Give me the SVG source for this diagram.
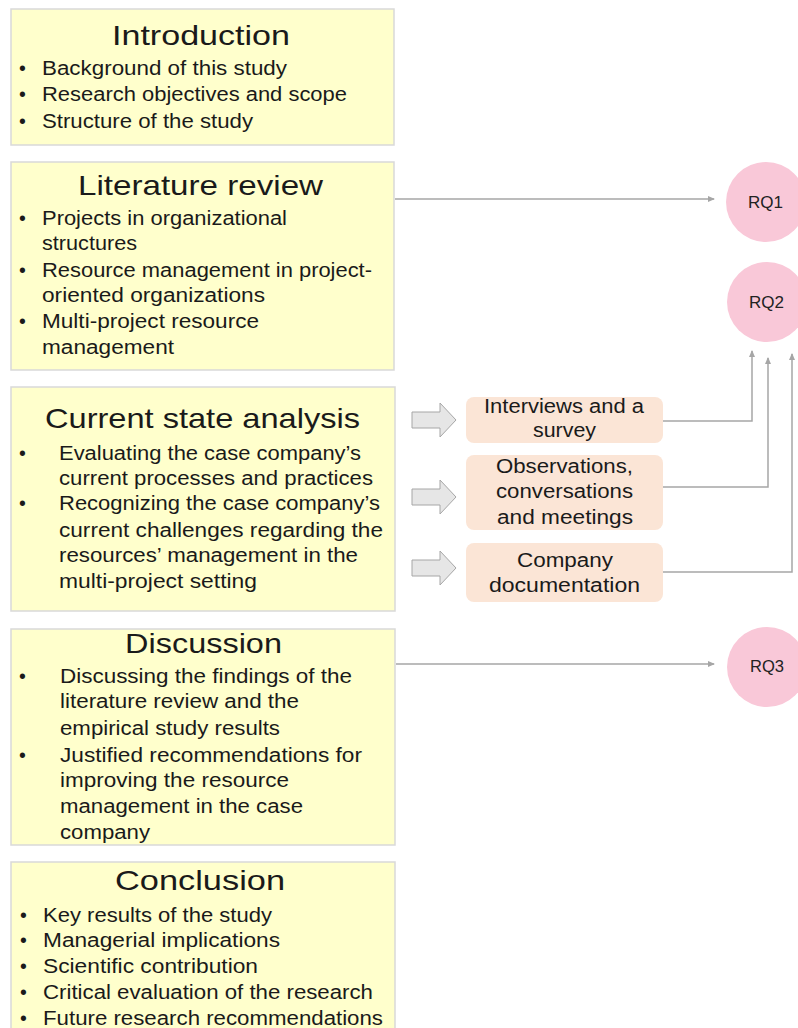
<svg xmlns="http://www.w3.org/2000/svg" width="798" height="1028" viewBox="0 0 798 1028">
<style>
.box{fill:#FFFFCC;stroke:#D9D9D9;stroke-width:1.5}
.src{fill:#FBE5D6;stroke:none}
.rq{fill:#F9C8D8;stroke:none}
.t{font-family:"Liberation Sans",Arial,sans-serif;fill:#1a1a1a}
.title{font-size:28px}
.body{font-size:19.5px}
.lab{font-size:16px;fill:#222}
.conn{fill:none;stroke:#A6A6A6;stroke-width:1.5}
.blk{fill:#E6E6E6;stroke:#A6A6A6;stroke-width:1}
</style>
<defs>
<marker id="ah" markerWidth="8" markerHeight="8" refX="6" refY="4" orient="auto" markerUnits="userSpaceOnUse">
<path d="M0,1 L7,4 L0,7 Z" fill="#A6A6A6"/>
</marker>
</defs>
<rect width="798" height="1028" fill="#FFFFFF"/>

<g id="introduction">
<rect class="box" x="11" y="9" width="383" height="136"/>
<text class="t title" x="112" y="45" textLength="178" lengthAdjust="spacingAndGlyphs">Introduction</text>
<text class="t body" x="19" y="75">•</text>
<text class="t body" x="42" y="75" textLength="245" lengthAdjust="spacingAndGlyphs">Background of this study</text>
<text class="t body" x="19" y="101">•</text>
<text class="t body" x="42" y="101" textLength="305" lengthAdjust="spacingAndGlyphs">Research objectives and scope</text>
<text class="t body" x="19" y="128">•</text>
<text class="t body" x="42" y="128" textLength="211" lengthAdjust="spacingAndGlyphs">Structure of the study</text>
</g>

<g id="literature-review">
<rect class="box" x="11" y="162" width="383" height="208"/>
<text class="t title" x="78" y="195" textLength="245" lengthAdjust="spacingAndGlyphs">Literature review</text>
<text class="t body" x="19" y="225">•</text>
<text class="t body" x="42" y="225" textLength="245" lengthAdjust="spacingAndGlyphs">Projects in organizational</text>
<text class="t body" x="42" y="250" textLength="95" lengthAdjust="spacingAndGlyphs">structures</text>
<text class="t body" x="19" y="277">•</text>
<text class="t body" x="42" y="277" textLength="330" lengthAdjust="spacingAndGlyphs">Resource management in project-</text>
<text class="t body" x="42" y="302" textLength="223" lengthAdjust="spacingAndGlyphs">oriented organizations</text>
<text class="t body" x="19" y="328">•</text>
<text class="t body" x="42" y="328" textLength="217" lengthAdjust="spacingAndGlyphs">Multi-project resource</text>
<text class="t body" x="42" y="354" textLength="132" lengthAdjust="spacingAndGlyphs">management</text>
</g>

<g id="current-state-analysis">
<rect class="box" x="11" y="387" width="384" height="224"/>
<text class="t title" x="45" y="428" textLength="315" lengthAdjust="spacingAndGlyphs">Current state analysis</text>
<text class="t body" x="19" y="460">•</text>
<text class="t body" x="59" y="460" textLength="302" lengthAdjust="spacingAndGlyphs">Evaluating the case company’s</text>
<text class="t body" x="59" y="485" textLength="314" lengthAdjust="spacingAndGlyphs">current processes and practices</text>
<text class="t body" x="19" y="510">•</text>
<text class="t body" x="59" y="510" textLength="321" lengthAdjust="spacingAndGlyphs">Recognizing the case company’s</text>
<text class="t body" x="59" y="537" textLength="324" lengthAdjust="spacingAndGlyphs">current challenges regarding the</text>
<text class="t body" x="59" y="562" textLength="299" lengthAdjust="spacingAndGlyphs">resources’ management in the</text>
<text class="t body" x="59" y="588" textLength="198" lengthAdjust="spacingAndGlyphs">multi-project setting</text>
</g>

<g id="discussion">
<rect class="box" x="11" y="629" width="384" height="216"/>
<text class="t title" x="125" y="653" textLength="157" lengthAdjust="spacingAndGlyphs">Discussion</text>
<text class="t body" x="19" y="683">•</text>
<text class="t body" x="60" y="683" textLength="292" lengthAdjust="spacingAndGlyphs">Discussing the findings of the</text>
<text class="t body" x="60" y="708" textLength="239" lengthAdjust="spacingAndGlyphs">literature review and the</text>
<text class="t body" x="60" y="735" textLength="220" lengthAdjust="spacingAndGlyphs">empirical study results</text>
<text class="t body" x="19" y="762">•</text>
<text class="t body" x="60" y="762" textLength="302" lengthAdjust="spacingAndGlyphs">Justified recommendations for</text>
<text class="t body" x="60" y="787" textLength="229" lengthAdjust="spacingAndGlyphs">improving the resource</text>
<text class="t body" x="60" y="813" textLength="243" lengthAdjust="spacingAndGlyphs">management in the case</text>
<text class="t body" x="60" y="839" textLength="90" lengthAdjust="spacingAndGlyphs">company</text>
</g>

<g id="conclusion">
<rect class="box" x="11" y="862" width="384" height="180"/>
<text class="t title" x="115" y="890" textLength="170" lengthAdjust="spacingAndGlyphs">Conclusion</text>
<text class="t body" x="20" y="922">•</text>
<text class="t body" x="43" y="922" textLength="229" lengthAdjust="spacingAndGlyphs">Key results of the study</text>
<text class="t body" x="20" y="947">•</text>
<text class="t body" x="43" y="947" textLength="237" lengthAdjust="spacingAndGlyphs">Managerial implications</text>
<text class="t body" x="20" y="973">•</text>
<text class="t body" x="43" y="973" textLength="215" lengthAdjust="spacingAndGlyphs">Scientific contribution</text>
<text class="t body" x="20" y="999">•</text>
<text class="t body" x="43" y="999" textLength="330" lengthAdjust="spacingAndGlyphs">Critical evaluation of the research</text>
<text class="t body" x="20" y="1025">•</text>
<text class="t body" x="43" y="1025" textLength="340" lengthAdjust="spacingAndGlyphs">Future research recommendations</text>
</g>

<g id="interviews">
<rect class="src" x="466" y="397" width="197" height="46" rx="8"/>
<text class="t body" x="484" y="413" textLength="160" lengthAdjust="spacingAndGlyphs">Interviews and a</text>
<text class="t body" x="533" y="437" textLength="63" lengthAdjust="spacingAndGlyphs">survey</text>
</g>

<g id="observations">
<rect class="src" x="466" y="455" width="197" height="75" rx="8"/>
<text class="t body" x="496" y="473" textLength="137" lengthAdjust="spacingAndGlyphs">Observations,</text>
<text class="t body" x="496" y="498" textLength="137" lengthAdjust="spacingAndGlyphs">conversations</text>
<text class="t body" x="497" y="524" textLength="136" lengthAdjust="spacingAndGlyphs">and meetings</text>
</g>

<g id="company-documentation">
<rect class="src" x="466" y="543" width="197" height="59" rx="8"/>
<text class="t body" x="517" y="567" textLength="96" lengthAdjust="spacingAndGlyphs">Company</text>
<text class="t body" x="489" y="592" textLength="151" lengthAdjust="spacingAndGlyphs">documentation</text>
</g>

<g id="rq1">
<circle class="rq" cx="766" cy="202" r="40"/>
<text class="t lab" x="748" y="208" textLength="35" lengthAdjust="spacingAndGlyphs">RQ1</text>
</g>
<g id="rq2">
<circle class="rq" cx="767" cy="302" r="40"/>
<text class="t lab" x="749" y="308" textLength="35" lengthAdjust="spacingAndGlyphs">RQ2</text>
</g>
<g id="rq3">
<circle class="rq" cx="767" cy="667" r="40"/>
<text class="t lab" x="750" y="672" textLength="34" lengthAdjust="spacingAndGlyphs">RQ3</text>
</g>

<g id="connectors">
<path class="conn" d="M395,199 H714" marker-end="url(#ah)"/>
<path class="conn" d="M396,664 H714" marker-end="url(#ah)"/>
<path class="conn" d="M663,421 H752 V351" marker-end="url(#ah)"/>
<path class="conn" d="M663,487 H768 V358" marker-end="url(#ah)"/>
<path class="conn" d="M663,572 H792 V354" marker-end="url(#ah)"/>
<path class="blk" d="M412,412 H440 V403 L456,420 L440,437 V428 H412 Z"/>
<path class="blk" d="M412,489 H440 V480 L456,497 L440,514 V505 H412 Z"/>
<path class="blk" d="M412,560 H440 V551 L456,568 L440,585 V576 H412 Z"/>
</g>
</svg>
